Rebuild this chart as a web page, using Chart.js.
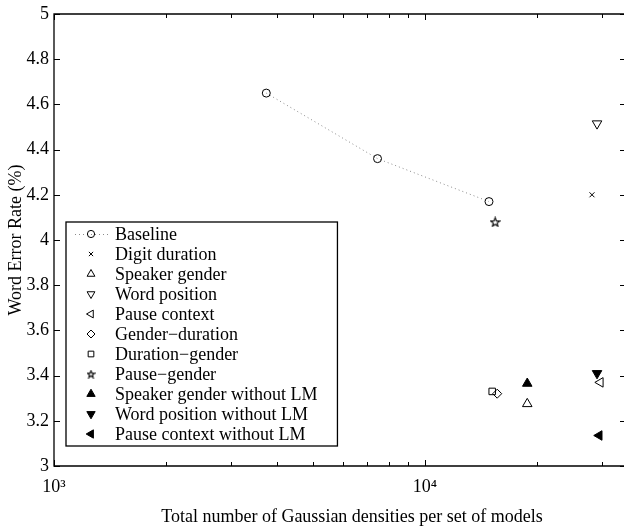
<!DOCTYPE html>
<html>
<head>
<meta charset="utf-8">
<script src="https://cdn.jsdelivr.net/npm/chart.js@4.4.1/dist/chart.umd.min.js"></script>
<style>
  html, body { margin: 0; padding: 0; background: #fff; overflow: hidden; }
  #wrap { width: 624px; height: 530px; }
</style>
</head>
<body>
<div id="wrap"><canvas id="chart" width="624" height="530"></canvas></div>
<script>
// Axis ticks
const xTicks = [1000, 2000, 3000, 4000, 5000, 6000, 7000, 8000, 9000, 10000, 20000, 30000];
const yTicks = [3, 3.2, 3.4, 3.6, 3.8, 4, 4.2, 4.4, 4.6, 4.8, 5];
const xTitle = 'Total number of Gaussian densities per set of models';
const yTitle = 'Word Error Rate (%)';

// Series values
const baselineX = [3735, 7450, 14880];
const baselineY = [4.65, 4.36, 4.17];
const digitDurationX = [28200];
const digitDurationY = [4.20];
const speakerGenderX = [18870];
const speakerGenderY = [3.275];
const wordPositionX = [29100];
const wordPositionY = [4.515];
const pauseContextX = [29700];
const pauseContextY = [3.37];
const genderDurationX = [15660];
const genderDurationY = [3.32];
const durationGenderX = [15180];
const durationGenderY = [3.33];
const pauseGenderX = [15460];
const pauseGenderY = [4.08];
const speakerGenderNoLmX = [18870];
const speakerGenderNoLmY = [3.365];
const wordPositionNoLmX = [29100];
const wordPositionNoLmY = [3.41];
const pauseContextNoLmX = [29500];
const pauseContextNoLmY = [3.135];

const FONT = 'Liberation Serif';
const INK = '#000';
const NONE = 'rgba(0,0,0,0)';

// five-pointed star marker (Chart.js "star" is an asterisk)
function makeStar(size) {
  const c = document.createElement('canvas');
  c.width = size; c.height = size;
  const g = c.getContext('2d');
  const cx = size / 2, cy = size / 2 + 0.5;
  const ro = size / 2 - 0.8, ri = ro * 0.42;
  g.beginPath();
  for (let i = 0; i < 10; i++) {
    const r = i % 2 === 0 ? ro : ri;
    const a = -Math.PI / 2 + i * Math.PI / 5;
    const px = cx + r * Math.cos(a), py = cy + r * Math.sin(a);
    if (i === 0) g.moveTo(px, py); else g.lineTo(px, py);
  }
  g.closePath();
  g.lineWidth = 1.1;
  g.strokeStyle = INK;
  g.stroke();
  return c;
}
const starBig = makeStar(11);
const starSmall = makeStar(9);

function pts(xs, ys) {
  return xs.map((x, i) => ({ x: x, y: ys[i] }));
}

function series(label, xs, ys, style, rotation, radius, filled, legendRadius, legendStyle) {
  return {
    label: label,
    data: pts(xs, ys),
    showLine: false,
    pointStyle: style,
    rotation: rotation,
    pointRadius: radius,
    pointHoverRadius: radius,
    pointBorderWidth: 1,
    pointBorderColor: INK,
    pointBackgroundColor: filled ? INK : NONE,
    legendRadius: legendRadius,
    legendStyle: legendStyle || style
  };
}

const datasets = [
  Object.assign(series('Baseline', baselineX, baselineY, 'circle', 0, 4, false, 3.6), {
    showLine: true, borderColor: '#8a8a8a', borderWidth: 1, borderDash: [1, 3], fill: false
  }),
  series('Digit duration', digitDurationX, digitDurationY, 'crossRot', 0, 3.5, false, 3),
  series('Speaker gender', speakerGenderX, speakerGenderY, 'triangle', 0, 5.5, false, 4.5),
  series('Word position', wordPositionX, wordPositionY, 'triangle', 180, 5.5, false, 4.5),
  series('Pause context', pauseContextX, pauseContextY, 'triangle', 270, 5.5, false, 4.5),
  series('Gender\u2212duration', genderDurationX, genderDurationY, 'rectRot', 0, 4.5, false, 4),
  series('Duration\u2212gender', durationGenderX, durationGenderY, 'rect', 0, 4.6, false, 4),
  series('Pause\u2212gender', pauseGenderX, pauseGenderY, starBig, 0, 5, false, 4, starSmall),
  series('Speaker gender without LM', speakerGenderNoLmX, speakerGenderNoLmY, 'triangle', 0, 5.5, true, 4.8),
  series('Word position without LM', wordPositionNoLmX, wordPositionNoLmY, 'triangle', 180, 5.5, true, 4.8),
  series('Pause context without LM', pauseContextNoLmX, pauseContextNoLmY, 'triangle', 270, 5.5, true, 4.8)
];

// axes box with inward ticks; the right side sits on the page edge
const boxPlugin = {
  id: 'matlabBox',
  afterDatasetsDraw(chart) {
    const ctx = chart.ctx;
    const ca = chart.chartArea;
    const xs = chart.scales.x, ys = chart.scales.y;
    ctx.save();
    ctx.strokeStyle = INK;
    ctx.lineWidth = 1;
    xTicks.forEach(v => {
      const px = Math.round(xs.getPixelForValue(v)) + 0.5;
      const major = Math.abs(Math.log10(v) % 1) < 1e-9;
      const len = major ? 6 : 4;
      ctx.beginPath();
      ctx.moveTo(px, ca.bottom); ctx.lineTo(px, ca.bottom - len);
      ctx.moveTo(px, ca.top); ctx.lineTo(px, ca.top + len);
      ctx.stroke();
    });
    yTicks.forEach(v => {
      const py = Math.round(ys.getPixelForValue(v)) + 0.5;
      ctx.beginPath();
      ctx.moveTo(ca.left, py); ctx.lineTo(ca.left + 6, py);
      ctx.moveTo(ca.right + 2, py); ctx.lineTo(ca.right - 4, py);
      ctx.stroke();
    });
    ctx.lineWidth = 1.3;
    ctx.beginPath();
    ctx.moveTo(ca.right + 3, ca.top); ctx.lineTo(ca.left, ca.top);
    ctx.lineTo(ca.left, ca.bottom); ctx.lineTo(ca.right + 3, ca.bottom);
    ctx.stroke();

    // x label is centred on the full (cropped) axes, a bit right of the visible middle
    ctx.fillStyle = INK;
    ctx.font = '18px "' + FONT + '"';
    ctx.textAlign = 'center';
    ctx.textBaseline = 'middle';
    ctx.fillText(xTitle, ca.left + 298, chart.height - 13);
    ctx.restore();
  }
};

// legend box inside the axes, lower left
const legendPlugin = {
  id: 'boxLegend',
  afterDraw(chart) {
    const ctx = chart.ctx;
    const ca = chart.chartArea;
    const left = ca.left + 12, top = ca.top + 208;
    const rowH = 20, first = 12;
    const markX = left + 25, textX = left + 49;
    ctx.save();
    ctx.font = '18px "' + FONT + '"';
    let maxW = 0;
    chart.data.datasets.forEach(ds => { maxW = Math.max(maxW, ctx.measureText(ds.label).width); });
    const w = textX - left + maxW + 20;
    const h = first * 2 + rowH * (chart.data.datasets.length - 1);
    ctx.fillStyle = '#fff';
    ctx.fillRect(left, top, w, h);
    ctx.strokeStyle = INK;
    ctx.lineWidth = 1.3;
    ctx.strokeRect(left, top, w, h);
    chart.data.datasets.forEach((ds, i) => {
      const y = top + first + i * rowH;
      if (ds.showLine) {
        ctx.save();
        ctx.strokeStyle = ds.borderColor;
        ctx.lineWidth = 1;
        ctx.setLineDash(ds.borderDash);
        ctx.beginPath();
        ctx.moveTo(left + 9, y + 0.5); ctx.lineTo(left + 42, y + 0.5);
        ctx.stroke();
        ctx.restore();
      }
      ctx.fillStyle = ds.pointBackgroundColor;
      ctx.strokeStyle = INK;
      ctx.lineWidth = 1;
      Chart.helpers.drawPoint(ctx, {
        pointStyle: ds.legendStyle, rotation: ds.rotation, radius: ds.legendRadius, borderWidth: 1
      }, markX, y);
      ctx.fillStyle = INK;
      ctx.textBaseline = 'middle';
      ctx.textAlign = 'left';
      ctx.fillText(ds.label, textX, y + 1);
    });
    ctx.restore();
  }
};

new Chart(document.getElementById('chart'), {
  type: 'scatter',
  data: { datasets: datasets },
  options: {
    responsive: false,
    animation: false,
    events: [],
    layout: { autoPadding: false, padding: { top: 14, right: 0, left: 0, bottom: 0 } },
    plugins: {
      legend: { display: false },
      tooltip: { enabled: false }
    },
    scales: {
      x: {
        type: 'logarithmic',
        min: 1000,
        max: 34400,
        grid: { display: false, drawTicks: false },
        border: { display: false },
        afterBuildTicks: axis => { axis.ticks = xTicks.map(v => ({ value: v })); },
        afterFit: axis => {
          axis.height = 64;
          axis.paddingLeft = 0;
          axis.paddingRight = 0;
        },
        ticks: {
          autoSkip: false,
          maxRotation: 0,
          padding: 10,
          color: INK,
          font: { family: FONT, size: 18 },
          callback: v => {
            if (v === 1000) return '10\u00b3';
            if (v === 10000) return '10\u2074';
            return '';
          }
        },
        title: { display: false }
      },
      y: {
        min: 3,
        max: 5,
        grid: { display: false, drawTicks: false },
        border: { display: false },
        afterBuildTicks: axis => { axis.ticks = yTicks.map(v => ({ value: v })); },
        afterFit: axis => {
          axis.width = 54;
          axis.paddingTop = 0;
          axis.paddingBottom = 0;
        },
        ticks: {
          padding: 5,
          color: INK,
          font: { family: FONT, size: 18 },
          callback: v => String(Number(v.toFixed(1)))
        },
        title: {
          display: true,
          text: yTitle,
          color: INK,
          font: { family: FONT, size: 18 },
          padding: { top: 5, bottom: 4 }
        }
      }
    }
  },
  plugins: [boxPlugin, legendPlugin]
});
</script>
</body>
</html>
